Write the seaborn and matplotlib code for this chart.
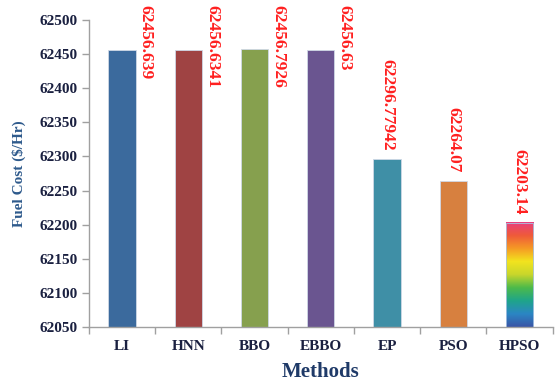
import numpy as np
import pandas as pd
import matplotlib
matplotlib.use("Agg")
import matplotlib.pyplot as plt
import seaborn as sns
from matplotlib.colors import LinearSegmentedColormap

methods = ["LI", "HNN", "BBO", "EBBO", "EP", "PSO", "HPSO"]
fuel_cost = [62456.639, 62456.6341, 62456.7926, 62456.63, 62296.77942, 62264.07, 62203.14]
value_labels = ["62456.639", "62456.6341", "62456.7926", "62456.63", "62296.77942", "62264.07", "62203.14"]
y_ticks = [62050, 62100, 62150, 62200, 62250, 62300, 62350, 62400, 62450, 62500]

bar_colors = ["#3b6a9d", "#9f4343", "#86a04e", "#6a5590", "#3f8fa6", "#d7803f", "#ffffff"]
rainbow = ["#3a55a6", "#2b86c4", "#1fa58a", "#4dba4a", "#c8d62c", "#f2e41e", "#f59a25", "#ef5a3a", "#e8407e"]

sns.set_style("white")
plt.rcParams["font.family"] = ["Liberation Serif", "DejaVu Serif"]

fig = plt.figure(figsize=(5.55, 3.81), dpi=100)
ax = fig.add_axes([0.160, 0.1417, 0.836, 0.8058])

df = pd.DataFrame({"Method": methods, "Cost": fuel_cost})
sns.barplot(data=df, x="Method", y="Cost", hue="Method", palette=bar_colors,
            legend=False, width=0.41, saturation=1, ax=ax,
            edgecolor="#cfd8e6", linewidth=0.6)

ax.set_ylim(y_ticks[0], y_ticks[-1])
ax.set_xlim(-0.5, len(methods) - 0.5)
ax.set_yticks(y_ticks)
ax.set_yticklabels([str(t) for t in y_ticks])

# rainbow fill for the last bar
cmap = LinearSegmentedColormap.from_list("rb", rainbow)
last = ax.patches[len(methods) - 1]
x0, w = last.get_x(), last.get_width()
ax.imshow(np.linspace(0, 1, 256).reshape(-1, 1), cmap=cmap, aspect="auto",
          extent=(x0, x0 + w, y_ticks[0], fuel_cost[-1]),
          origin="lower", zorder=last.get_zorder() + 0.1, clip_path=last)
last.set_zorder(last.get_zorder() + 0.2)
last.set_facecolor("none")
last.set_edgecolor("#a9c4e4")

for sp in ["top", "right"]:
    ax.spines[sp].set_visible(False)
for sp in ["left", "bottom"]:
    ax.spines[sp].set_color("#a0a0a0")
    ax.spines[sp].set_linewidth(1.0)

navy = "#1a2040"
ax.tick_params(axis="y", direction="out", length=5, color="#a0a0a0", width=1,
               labelsize=11, labelcolor=navy, pad=3, left=True)
for lab in ax.get_yticklabels():
    lab.set_fontweight("bold")
ax.tick_params(axis="x", which="major", length=0, labelsize=11, labelcolor=navy, pad=9)
for lab in ax.get_xticklabels():
    lab.set_fontweight("bold")
ax.set_xticks(np.arange(-0.5, len(methods), 1.0), minor=True)
ax.tick_params(axis="x", which="minor", direction="out", length=5, color="#a0a0a0", width=1, bottom=True)

ax.set_xlabel("Methods", fontsize=15, fontweight="bold", color="#1f3a68", labelpad=7)
ax.set_ylabel("Fuel Cost ($/Hr)", fontsize=11, fontweight="bold", color="#2e5a8c", labelpad=10)

# value labels, rotated, above each bar; pushed down and to the side when they run off the top
fig.canvas.draw()
renderer = fig.canvas.get_renderer()
fig_h = fig.bbox.height
for i, (v, s) in enumerate(zip(fuel_cost, value_labels)):
    t = ax.annotate(s, xy=(i, v), xytext=(0, 6), textcoords="offset points",
                    rotation=270, ha="center", va="bottom", color="#ff2020",
                    fontsize=12.5, fontweight="bold", annotation_clip=False)
    bb = t.get_window_extent(renderer)
    if bb.y1 > fig_h - 5:
        t.remove()
        top_y = ax.transData.inverted().transform((0, fig_h - 5))[1]
        ax.annotate(s, xy=(i + 0.36, top_y), rotation=270, ha="center", va="top",
                    color="#ff2020", fontsize=12.5, fontweight="bold", annotation_clip=False)

fig.savefig("out.png", dpi=100)
